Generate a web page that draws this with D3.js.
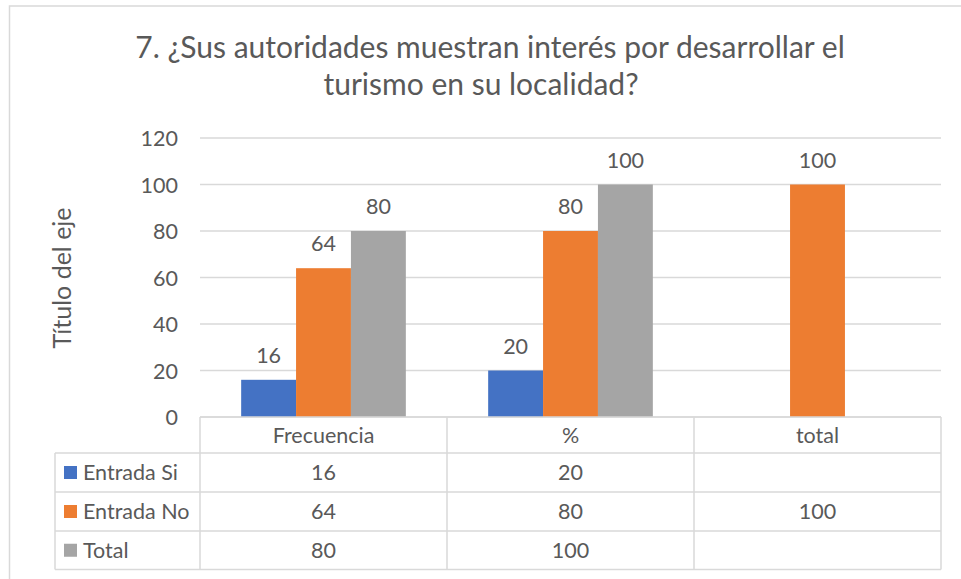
<!DOCTYPE html>
<html>
<head>
<meta charset="utf-8">
<script src="https://cdn.jsdelivr.net/npm/d3@7"></script>
<style>
  body { margin: 0; background: #fff; }
  text { font-family: Lato, "Open Sans", sans-serif; fill: #595959; }
</style>
</head>
<body>
<svg width="961" height="579"></svg>
<script>
var categories = ["Frecuencia", "%", "total"];
var seriesNames = ["Entrada Si", "Entrada No", "Total"];
var entradaSi = [16, 20, null];
var entradaNo = [64, 80, 100];
var totalSerie = [80, 100, null];
var yTicks = [0, 20, 40, 60, 80, 100, 120];
var colors = ["#4472C4", "#ED7D31", "#A5A5A5"];

var seriesValues = [entradaSi, entradaNo, totalSerie];

var svg = d3.select("svg");

// chart frame (cut off at right and bottom, like the screenshot)
svg.append("rect")
  .attr("x", 9.5).attr("y", 6)
  .attr("width", 1000).attr("height", 700)
  .attr("fill", "none")
  .attr("stroke", "#d9d9d9")
  .attr("stroke-width", 1.5);

// title
var titleLines = [
  {txt: "7. ¿Sus autoridades muestran interés por desarrollar el", x: 490, y: 58},
  {txt: "turismo en su localidad?", x: 481, y: 95}
];
svg.selectAll(".title")
  .data(titleLines)
  .enter()
  .append("text")
  .attr("class", "title")
  .attr("x", d => d.x)
  .attr("y", d => d.y)
  .attr("text-anchor", "middle")
  .style("font-size", "30px")
  .text(d => d.txt);

var plotLeft = 200, plotRight = 941, plotTop = 138, plotBottom = 417;

var xScale = d3.scaleBand().domain(categories).range([plotLeft, plotRight]);
var xSub = d3.scaleBand().domain(seriesNames).range([0, xScale.bandwidth()])
  .paddingInner(0).paddingOuter(0.75);
var yScale = d3.scaleLinear().domain([0, 120]).range([plotBottom, plotTop]);

// gridlines
svg.append("g")
  .selectAll("line")
  .data(yTicks)
  .enter()
  .append("line")
  .attr("x1", plotLeft).attr("x2", plotRight)
  .attr("y1", d => yScale(d)).attr("y2", d => yScale(d))
  .attr("stroke", "#d9d9d9")
  .attr("stroke-width", 1.5);

// y axis labels
var yAxis = svg.append("g")
  .attr("transform", "translate(" + (plotLeft - 22) + ",0)")
  .call(d3.axisLeft(yScale).tickValues(yTicks).tickSize(0).tickPadding(0));
yAxis.select(".domain").remove();
yAxis.selectAll("text")
  .attr("fill", "#595959")
  .attr("dy", "0.36em")
  .style("font-family", "Lato, sans-serif")
  .style("font-size", "21.5px");

// axis title
svg.append("text")
  .attr("transform", "translate(71,278) rotate(-90)")
  .attr("text-anchor", "middle")
  .style("font-size", "25px")
  .text("Título del eje");

// bars
var barData = [];
seriesValues.forEach(function(vals, s) {
  vals.forEach(function(v, c) {
    if (v != null) barData.push({serie: seriesNames[s], cat: categories[c], val: v, color: colors[s]});
  });
});

svg.append("g")
  .selectAll(".bar")
  .data(barData)
  .enter()
  .append("rect")
  .attr("class", "bar")
  .attr("x", d => xScale(d.cat) + xSub(d.serie))
  .attr("y", d => yScale(d.val))
  .attr("width", xSub.bandwidth())
  .attr("height", d => plotBottom - yScale(d.val))
  .attr("fill", d => d.color);

svg.append("g")
  .selectAll(".lbl")
  .data(barData)
  .enter()
  .append("text")
  .attr("class", "lbl")
  .attr("x", d => xScale(d.cat) + xSub(d.serie) + xSub.bandwidth() / 2)
  .attr("y", d => yScale(d.val) - 17)
  .attr("text-anchor", "middle")
  .style("font-size", "21.5px")
  .text(d => d.val);

// data table
var headTop = plotBottom, headBottom = 453;
var rowY = [453, 492, 531, 569.5];
var tableLeft = 55;
var tbl = svg.append("g");
var lineColor = "#d9d9d9";

function hline(x1, x2, y) {
  tbl.append("line").attr("x1", x1).attr("x2", x2).attr("y1", y).attr("y2", y)
    .attr("stroke", lineColor).attr("stroke-width", 1.5);
}
function vline(x, y1, y2) {
  tbl.append("line").attr("x1", x).attr("x2", x).attr("y1", y1).attr("y2", y2)
    .attr("stroke", lineColor).attr("stroke-width", 1.5);
}

hline(plotLeft, plotRight, headTop);
rowY.forEach(y => hline(tableLeft, plotRight, y));
vline(tableLeft, rowY[0], rowY[3]);
categories.forEach(c => vline(xScale(c), headTop, rowY[3]));
vline(plotRight, headTop, rowY[3]);

tbl.selectAll(".head")
  .data(categories)
  .enter()
  .append("text")
  .attr("x", d => xScale(d) + xScale.bandwidth() / 2)
  .attr("y", (headTop + headBottom) / 2 + 7.5)
  .attr("text-anchor", "middle")
  .style("font-size", "21.5px")
  .text(d => d);

seriesNames.forEach(function(name, s) {
  var mid = (rowY[s] + rowY[s + 1]) / 2;
  tbl.append("rect")
    .attr("x", 64).attr("y", mid - 6.5)
    .attr("width", 13).attr("height", 13)
    .attr("fill", colors[s]);
  tbl.append("text")
    .attr("x", 83).attr("y", mid + 7.5)
    .style("font-size", "21.5px")
    .text(name);
  seriesValues[s].forEach(function(v, c) {
    if (v == null) return;
    tbl.append("text")
      .attr("x", xScale(categories[c]) + xScale.bandwidth() / 2)
      .attr("y", mid + 7.5)
      .attr("text-anchor", "middle")
      .style("font-size", "21.5px")
      .text(v);
  });
});
</script>
</body>
</html>
